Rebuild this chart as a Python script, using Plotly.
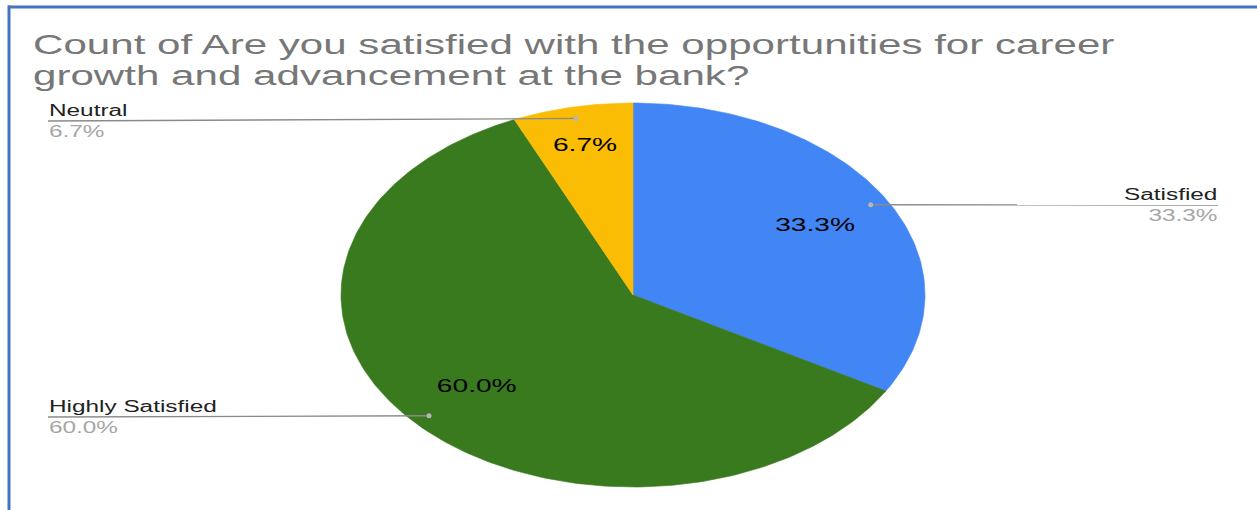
import math
import plotly.graph_objects as go

# Survey responses (counts) and their slice colours
labels = ["Satisfied", "Highly Satisfied", "Neutral"]
counts = [5, 9, 1]
colors = ["#4285F4", "#397A1E", "#FBBC04"]

title_lines = [
    "Count of Are you satisfied with the opportunities for career",
    "growth and advancement at the bank?",
]

# ---- layout geometry (pixels, y grows downward) ----
W, H = 1257, 510
CX, CY = 633, 295          # pie centre
RX, RY = 292, 192          # horizontal / vertical radius (stretched pie)
STRETCH = RX / RY          # horizontal stretch applied to all text too
FONT = "Liberation Sans, Arial, sans-serif"

# callout placement: end of leader line, line height, side
callouts = {
    "Satisfied": (1218, 205, "right"),
    "Highly Satisfied": (48, 417, "left"),
    "Neutral": (48, 121, "left"),
}

total = sum(counts)
fracs = [c / total for c in counts]
pct_text = [f"{f * 100:.1f}%" for f in fracs]


def pt(theta, f=1.0):
    """Point on the ellipse at clockwise angle theta from 12 o'clock."""
    return CX + RX * f * math.sin(theta), CY - RY * f * math.cos(theta)


fig = go.Figure()

# slices
start = 0.0
mids = []
for lab, fr, col in zip(labels, fracs, colors):
    end = start + fr * 2 * math.pi
    n = max(8, int(fr * 400))
    xs, ys = [CX], [CY]
    for i in range(n + 1):
        x, y = pt(start + (end - start) * i / n)
        xs.append(x)
        ys.append(y)
    xs.append(CX)
    ys.append(CY)
    fig.add_trace(go.Scatter(
        x=xs, y=ys, mode="lines", fill="toself", fillcolor=col,
        line=dict(color=col, width=0.6), hoverinfo="skip", showlegend=False,
    ))
    mids.append((start + end) / 2)
    start = end

# percentage labels inside slices
in_x, in_y = [], []
for fr, m in zip(fracs, mids):
    x, y = pt(m, 0.79 if fr < 0.1 else 0.72)
    in_x.append(x)
    in_y.append(y)
fig.add_trace(go.Scatter(
    x=in_x, y=in_y, mode="text", text=pct_text,
    textfont=dict(family=FONT, size=18.5, color="#000000"),
    textposition="middle center", hoverinfo="skip", showlegend=False,
))

# leader lines, dots and outside labels
for lab, pct, m in zip(labels, pct_text, mids):
    dx, dy = pt(m, 0.94)
    ex, ly, side = callouts[lab]
    fig.add_trace(go.Scatter(
        x=[dx, ex], y=[dy, ly], mode="lines",
        line=dict(color="#8a8a8a", width=1.3), hoverinfo="skip", showlegend=False,
    ))
    fig.add_trace(go.Scatter(
        x=[dx], y=[dy], mode="markers",
        marker=dict(color="#b5b5b5", size=5), hoverinfo="skip", showlegend=False,
    ))
    anchor = "left" if side == "left" else "right"
    fig.add_annotation(
        x=ex, y=ly - 1, xref="x", yref="y", text=lab, showarrow=False,
        xanchor=anchor, yanchor="bottom", align=anchor,
        font=dict(family=FONT, size=16, color="#222222"), borderpad=0,
    )
    fig.add_annotation(
        x=ex, y=ly + 1, xref="x", yref="y", text=pct, showarrow=False,
        xanchor=anchor, yanchor="top", align=anchor,
        font=dict(family=FONT, size=16, color="#a6a6a6"), borderpad=0,
    )

# two-line title
for i, line in enumerate(title_lines):
    fig.add_annotation(
        x=32, y=44 + i * 31, xref="x", yref="y", text=line, showarrow=False,
        xanchor="left", yanchor="middle", align="left",
        font=dict(family=FONT, size=27.7, color="#777777"), borderpad=0,
    )

# frame lines along the top and left edges
fig.add_shape(type="line", xref="paper", yref="paper", x0=8 / W, x1=1, y0=1 - 7 / H, y1=1 - 7 / H,
              line=dict(color="#4472C4", width=3))
fig.add_shape(type="line", xref="paper", yref="paper", x0=9 / W, x1=9 / W, y0=0, y1=1 - 5.5 / H,
              line=dict(color="#4472C4", width=3))

fig.update_layout(
    width=W, height=H, margin=dict(l=0, r=0, t=0, b=0),
    paper_bgcolor="white", plot_bgcolor="white",
    xaxis=dict(range=[0, W], visible=False, fixedrange=True),
    yaxis=dict(range=[H, 0], visible=False, fixedrange=True),
    showlegend=False,
)

# widen every text run by the same factor as the pie ellipse
stretch_js = """
var gd = document.getElementById('{plot_id}');
gd.querySelectorAll('svg text').forEach(function (t) {
  var w = t.getComputedTextLength();
  if (w > 0) {
    t.setAttribute('textLength', (w * %f).toFixed(2));
    t.setAttribute('lengthAdjust', 'spacingAndGlyphs');
  }
});
""" % STRETCH

fig.write_html("out.html", config={"displayModeBar": False}, post_script=stretch_js)
